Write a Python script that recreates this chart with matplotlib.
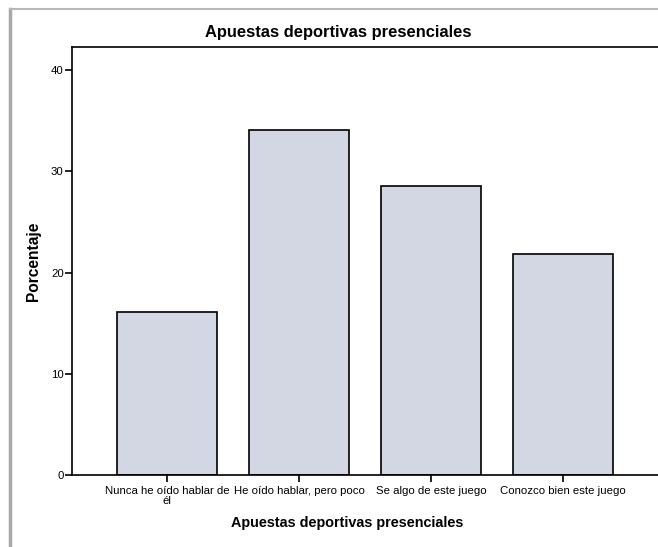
import matplotlib.pyplot as plt
from matplotlib.lines import Line2D
import numpy as np

# data
categories = ['Nunca he oído hablar de\nél', 'He oído hablar, pero poco',
              'Se algo de este juego', 'Conozco bien este juego']
percentages = [16.1, 34.1, 28.6, 21.8]
yticks = [0, 10, 20, 30, 40]

plt.rcParams['font.family'] = ['Liberation Sans', 'DejaVu Sans']

fig = plt.figure(figsize=(6.58, 5.47), dpi=100)
fig.patch.set_facecolor('white')

# axes box in pixels: left 72, right 658, top 47, bottom 475
W, H = 658.0, 547.0
ax = fig.add_axes([72 / W, (H - 475) / H, (658 - 72) / W, (475 - 47) / H])

x = np.arange(len(categories))
ax.bar(x, percentages, width=0.758, color='#d3d7e3', edgecolor='black', linewidth=1.2)

ax.set_xlim(-0.72, 3.72)
ax.set_ylim(0, 42.3)
ax.set_yticks(yticks)
ax.set_xticks(x)
ax.set_xticklabels(categories, fontsize=8.2, linespacing=0.95)
ax.tick_params(axis='y', labelsize=8.2, length=5, width=1.2, pad=1, color='black')
ax.tick_params(axis='x', length=5, width=1.2, pad=3, color='black')

for side in ['left', 'bottom', 'top']:
    ax.spines[side].set_linewidth(1.2)
ax.spines['right'].set_visible(False)

fig.text(338 / W, 1 - 33 / H, 'Apuestas deportivas presenciales', ha='center', va='center',
         fontsize=11.9, fontweight='bold')
fig.text(347 / W, 1 - 523 / H, 'Apuestas deportivas presenciales', ha='center', va='center',
         fontsize=10.4, fontweight='bold')
fig.text(34 / W, 1 - 261 / H, 'Porcentaje', ha='center', va='center', rotation=90,
         fontsize=11.2, fontweight='bold')

# grey frame of the screenshot
fig.add_artist(Line2D([10 / W, 10 / W], [0, 1 - 9 / H], color='#a8a8a8', linewidth=2.5,
                      transform=fig.transFigure))
fig.add_artist(Line2D([10 / W, 1], [1 - 9 / H, 1 - 9 / H], color='#b8b8b8', linewidth=1.5,
                      transform=fig.transFigure))

fig.savefig('out.png', dpi=100, facecolor='white')
